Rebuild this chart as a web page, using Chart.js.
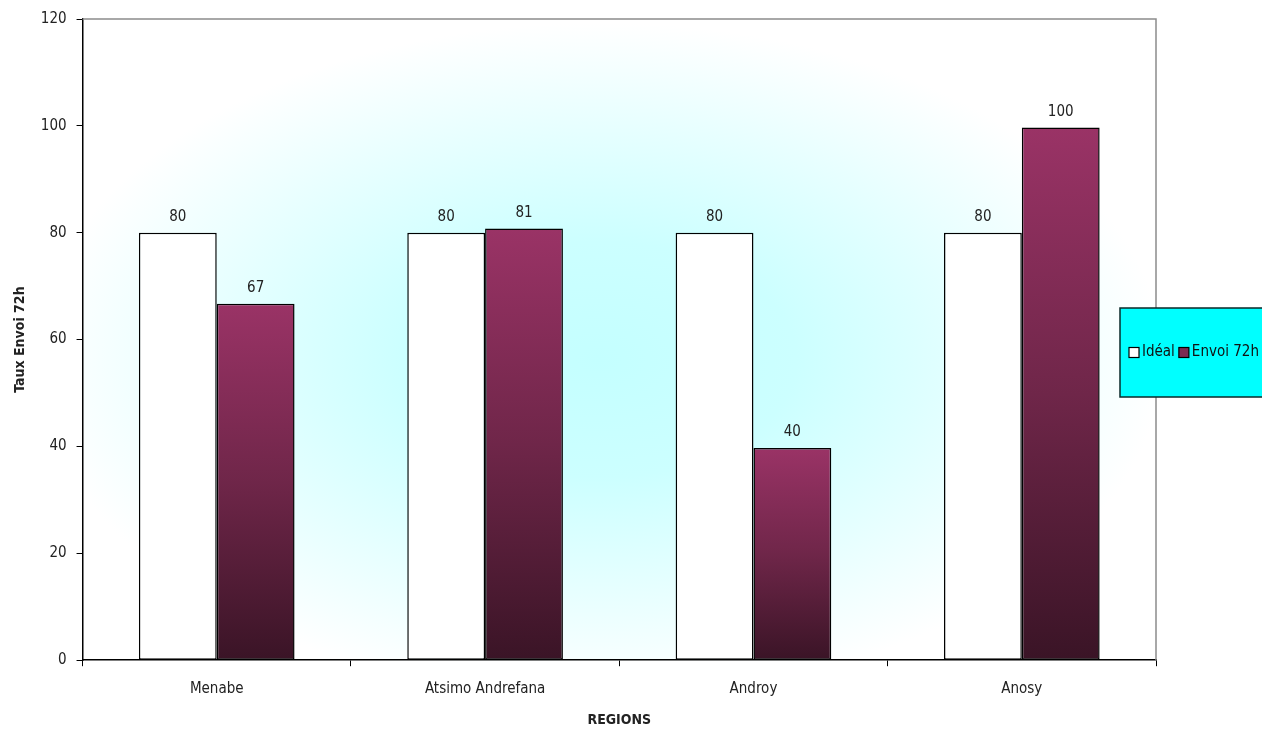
<!DOCTYPE html>
<html lang="fr">
<head>
    <meta charset="UTF-8">
    <title>Taux Envoi 72h par région</title>
    <script src="https://cdn.jsdelivr.net/npm/chart.js"></script>
    <style>
        * { margin: 0; padding: 0; box-sizing: border-box; }
        body { background: #fff; width: 1262px; height: 729px; overflow: hidden; }
        .chart-container { position: relative; width: 1262px; height: 729px; }
    </style>
</head>
<body>
    <div class="chart-container">
        <canvas id="regionChart"></canvas>
    </div>

    <script>
        const regions = ['Menabe', 'Atsimo Andrefana', 'Androy', 'Anosy'];
        const ideal = [80, 80, 80, 80];
        const envoi72h = [66.7, 80.8, 39.7, 99.7];
        const yTicks = [0, 20, 40, 60, 80, 100, 120];

        const FONT = "'Liberation Sans Narrow', 'DejaVu Sans Condensed', sans-serif";

        // dégradé vertical propre à chaque barre (clair en haut, sombre en bas)
        function barGradient(context) {
            const chart = context.chart;
            const y = chart.scales.y;
            if (!chart.chartArea || !y || context.raw === undefined) return '#993366';
            const top = y.getPixelForValue(context.raw);
            const base = y.getPixelForValue(0);
            const g = chart.ctx.createLinearGradient(0, top, 0, base);
            g.addColorStop(0, '#9a3366');
            g.addColorStop(0.5, '#6f2649');
            g.addColorStop(1, '#3a1426');
            return g;
        }

        const decorPlugin = {
            id: 'decor',
            beforeDraw(chart) {
                const { ctx, chartArea: a } = chart;
                ctx.save();
                ctx.beginPath();
                ctx.rect(a.left, a.top, a.right - a.left, a.bottom - a.top);
                ctx.clip();
                const cx = (a.left + a.right) / 2 - 20;
                const cy = (a.top + a.bottom) / 2 + 20;
                const rx = (a.right - a.left) / 2;
                const ry = (a.bottom - a.top) / 2;
                ctx.translate(cx, cy);
                ctx.scale(1, ry / rx);
                const g = ctx.createRadialGradient(0, 0, 0, 0, 0, rx * 1.05);
                g.addColorStop(0, '#c4ffff');
                g.addColorStop(0.35, '#ccffff');
                g.addColorStop(1, '#ffffff');
                ctx.fillStyle = g;
                ctx.fillRect(-rx * 2, -rx * 2, rx * 4, rx * 4);
                ctx.restore();
            },
            afterDraw(chart) {
                const { ctx, chartArea: a } = chart;
                ctx.save();
                // bordure haute et droite grise
                ctx.strokeStyle = '#8c8c8c';
                ctx.lineWidth = 1.5;
                ctx.beginPath();
                ctx.moveTo(a.left, a.top);
                ctx.lineTo(a.right, a.top);
                ctx.lineTo(a.right, a.bottom);
                ctx.stroke();

                // étiquettes de valeurs
                ctx.font = '15px ' + FONT;
                ctx.fillStyle = '#222';
                ctx.textAlign = 'center';
                ctx.textBaseline = 'bottom';
                chart.data.datasets.forEach((ds, i) => {
                    const meta = chart.getDatasetMeta(i);
                    meta.data.forEach((bar, j) => {
                        ctx.fillText(Math.round(ds.data[j]), bar.x, bar.y - 8);
                    });
                });

                // légende
                const lx = 1120, ly = 308, lw = 160, lh = 89;
                ctx.fillStyle = '#00ffff';
                ctx.fillRect(lx, ly, lw, lh);
                ctx.strokeStyle = '#0a2a2a';
                ctx.lineWidth = 1.5;
                ctx.strokeRect(lx, ly, lw, lh);
                const my = ly + lh / 2;
                ctx.font = '15px ' + FONT;
                ctx.textAlign = 'left';
                ctx.textBaseline = 'middle';
                let x = lx + 9;
                chart.data.datasets.forEach((ds, i) => {
                    ctx.fillStyle = i === 0 ? '#ffffff' : '#7a2a52';
                    ctx.fillRect(x, my - 5, 10, 10);
                    ctx.strokeStyle = '#000';
                    ctx.lineWidth = 1.2;
                    ctx.strokeRect(x, my - 5, 10, 10);
                    ctx.fillStyle = '#111';
                    ctx.fillText(ds.label, x + 13, my);
                    x += 13 + ctx.measureText(ds.label).width + 4;
                });
                ctx.restore();
            }
        };

        new Chart(document.getElementById('regionChart'), {
            type: 'bar',
            data: {
                labels: regions,
                datasets: [
                    {
                        label: 'Idéal',
                        data: ideal,
                        backgroundColor: '#ffffff',
                        borderColor: '#000',
                        borderWidth: 1.5,
                        borderSkipped: false
                    },
                    {
                        label: 'Envoi 72h',
                        data: envoi72h,
                        backgroundColor: barGradient,
                        borderColor: '#000',
                        borderWidth: 1.5,
                        borderSkipped: false
                    }
                ]
            },
            options: {
                responsive: true,
                maintainAspectRatio: false,
                animation: false,
                datasets: { bar: { categoryPercentage: 0.58, barPercentage: 1.0 } },
                layout: { padding: { top: 13, right: 106, bottom: 0, left: 12 } },
                plugins: {
                    legend: { display: false },
                    tooltip: { enabled: false }
                },
                scales: {
                    x: {
                        grid: { drawOnChartArea: false, drawTicks: true, tickLength: 6, color: '#000', offset: true },
                        border: { color: '#000', width: 1.5 },
                        ticks: { color: '#222', padding: 14, font: { family: FONT, size: 15 } },
                        title: { display: true, text: 'REGIONS', color: '#222', padding: { top: 0, bottom: 0 }, font: { family: FONT, size: 14, weight: 'bold' } }
                    },
                    y: {
                        min: 0,
                        max: 120,
                        afterBuildTicks(axis) { axis.ticks = yTicks.map(v => ({ value: v })); },
                        grid: { drawOnChartArea: false, drawTicks: true, tickLength: 6, color: '#000' },
                        border: { color: '#000', width: 1.5 },
                        ticks: { color: '#222', padding: 10, font: { family: FONT, size: 15 } },
                        title: { display: true, text: 'Taux Envoi 72h', color: '#222', padding: { top: 0, bottom: 2 }, font: { family: FONT, size: 14, weight: 'bold' } }
                    }
                }
            },
            plugins: [decorPlugin]
        });
    </script>
</body>
</html>
